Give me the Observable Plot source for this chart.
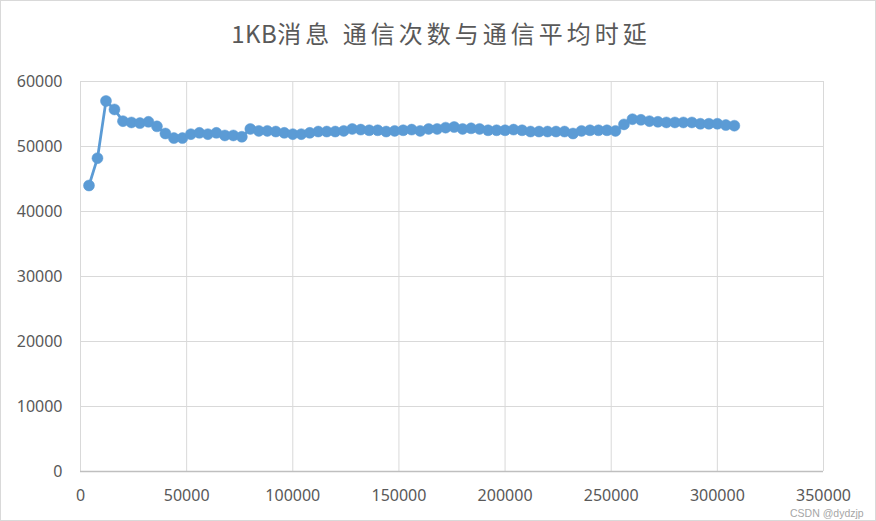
<!DOCTYPE html>
<html>
<head>
<meta charset="utf-8">
<script src="https://cdn.jsdelivr.net/npm/d3@7"></script>
<script src="https://cdn.jsdelivr.net/npm/@observablehq/plot@0.6"></script>
<style>
  html, body { margin: 0; padding: 0; background: #fff; }
  #wrap { position: relative; width: 876px; height: 521px; background: #fff; overflow: hidden; }
  #title { height: 70px; box-sizing: border-box; padding-top: 19px; padding-left: 6px; text-align: center;
    font-family: "Noto Sans CJK SC", "Noto Sans", sans-serif; font-size: 24px; line-height: 28px;
    letter-spacing: 4px; color: #595959; }
  #title .lat { letter-spacing: 0.5px; }
  #border { position: absolute; left: 0; top: 0; width: 876px; height: 521px; box-sizing: border-box;
    border: 1px solid #d9d9d9; pointer-events: none; }
  #mark { position: absolute; left: 790px; top: 508px; font-family: "Liberation Sans", Arial, sans-serif;
    font-size: 10.5px; line-height: 11px; color: #a6a6a6; }
</style>
</head>
<body>
<div id="wrap">
  <div id="title"><span class="lat">1KB</span>消息 通信次数与通信平均时延</div>
  <div id="chart"></div>
  <div id="mark">CSDN @dydzjp</div>
  <div id="border"></div>
</div>
<script>
const counts = [4000, 8000, 12000, 16000, 20000, 24000, 28000, 32000, 36000, 40000,
  44000, 48000, 52000, 56000, 60000, 64000, 68000, 72000, 76000, 80000,
  84000, 88000, 92000, 96000, 100000, 104000, 108000, 112000, 116000, 120000,
  124000, 128000, 132000, 136000, 140000, 144000, 148000, 152000, 156000, 160000,
  164000, 168000, 172000, 176000, 180000, 184000, 188000, 192000, 196000, 200000,
  204000, 208000, 212000, 216000, 220000, 224000, 228000, 232000, 236000, 240000,
  244000, 248000, 252000, 256000, 260000, 264000, 268000, 272000, 276000, 280000,
  284000, 288000, 292000, 296000, 300000, 304000, 308000];
const latency = [44000, 48200, 57000, 55700, 53900, 53700, 53600, 53800, 53100, 52000,
  51300, 51300, 51900, 52100, 51900, 52100, 51700, 51700, 51500, 52700,
  52400, 52400, 52300, 52100, 51900, 51900, 52100, 52300, 52300, 52300,
  52400, 52700, 52600, 52500, 52500, 52300, 52400, 52500, 52600, 52400,
  52700, 52700, 52900, 53000, 52700, 52800, 52700, 52500, 52500, 52500,
  52600, 52500, 52300, 52300, 52300, 52300, 52300, 52000, 52400, 52500,
  52500, 52500, 52400, 53400, 54200, 54100, 53900, 53800, 53700, 53700,
  53700, 53700, 53500, 53500, 53500, 53300, 53200];
const xTicks = [0, 50000, 100000, 150000, 200000, 250000, 300000, 350000];
const yTicks = [0, 10000, 20000, 30000, 40000, 50000, 60000];

const data = counts.map((c, i) => ({x: c, y: latency[i]}));

const chart = Plot.plot({
  width: 876,
  height: 451,
  marginTop: 11,
  marginBottom: 50,
  marginLeft: 80,
  marginRight: 53,
  style: {background: "transparent", fontFamily: "'Noto Sans', sans-serif", fontSize: "16px", color: "#595959"},
  x: {domain: [0, 350000], ticks: xTicks, tickFormat: d => String(d), tickSize: 0, tickPadding: 18, label: null},
  y: {domain: [0, 60000], ticks: yTicks, tickFormat: d => String(d), tickSize: 0, tickPadding: 18, label: null},
  marks: [
    Plot.ruleX(xTicks, {stroke: "#d9d9d9", strokeWidth: 1, strokeOpacity: 1}),
    Plot.ruleY(yTicks.filter(d => d > 0), {stroke: "#d9d9d9", strokeWidth: 1, strokeOpacity: 1}),
    Plot.ruleY([0], {stroke: "#bfbfbf", strokeWidth: 1.5, strokeOpacity: 1}),
    Plot.line(data, {x: "x", y: "y", stroke: "#5b9bd5", strokeWidth: 2.75}),
    Plot.dot(data, {x: "x", y: "y", r: 5.5, fill: "#5b9bd5", stroke: "#5b9bd5", strokeWidth: 0.5})
  ]
});
document.getElementById("chart").appendChild(chart);
</script>
</body>
</html>
